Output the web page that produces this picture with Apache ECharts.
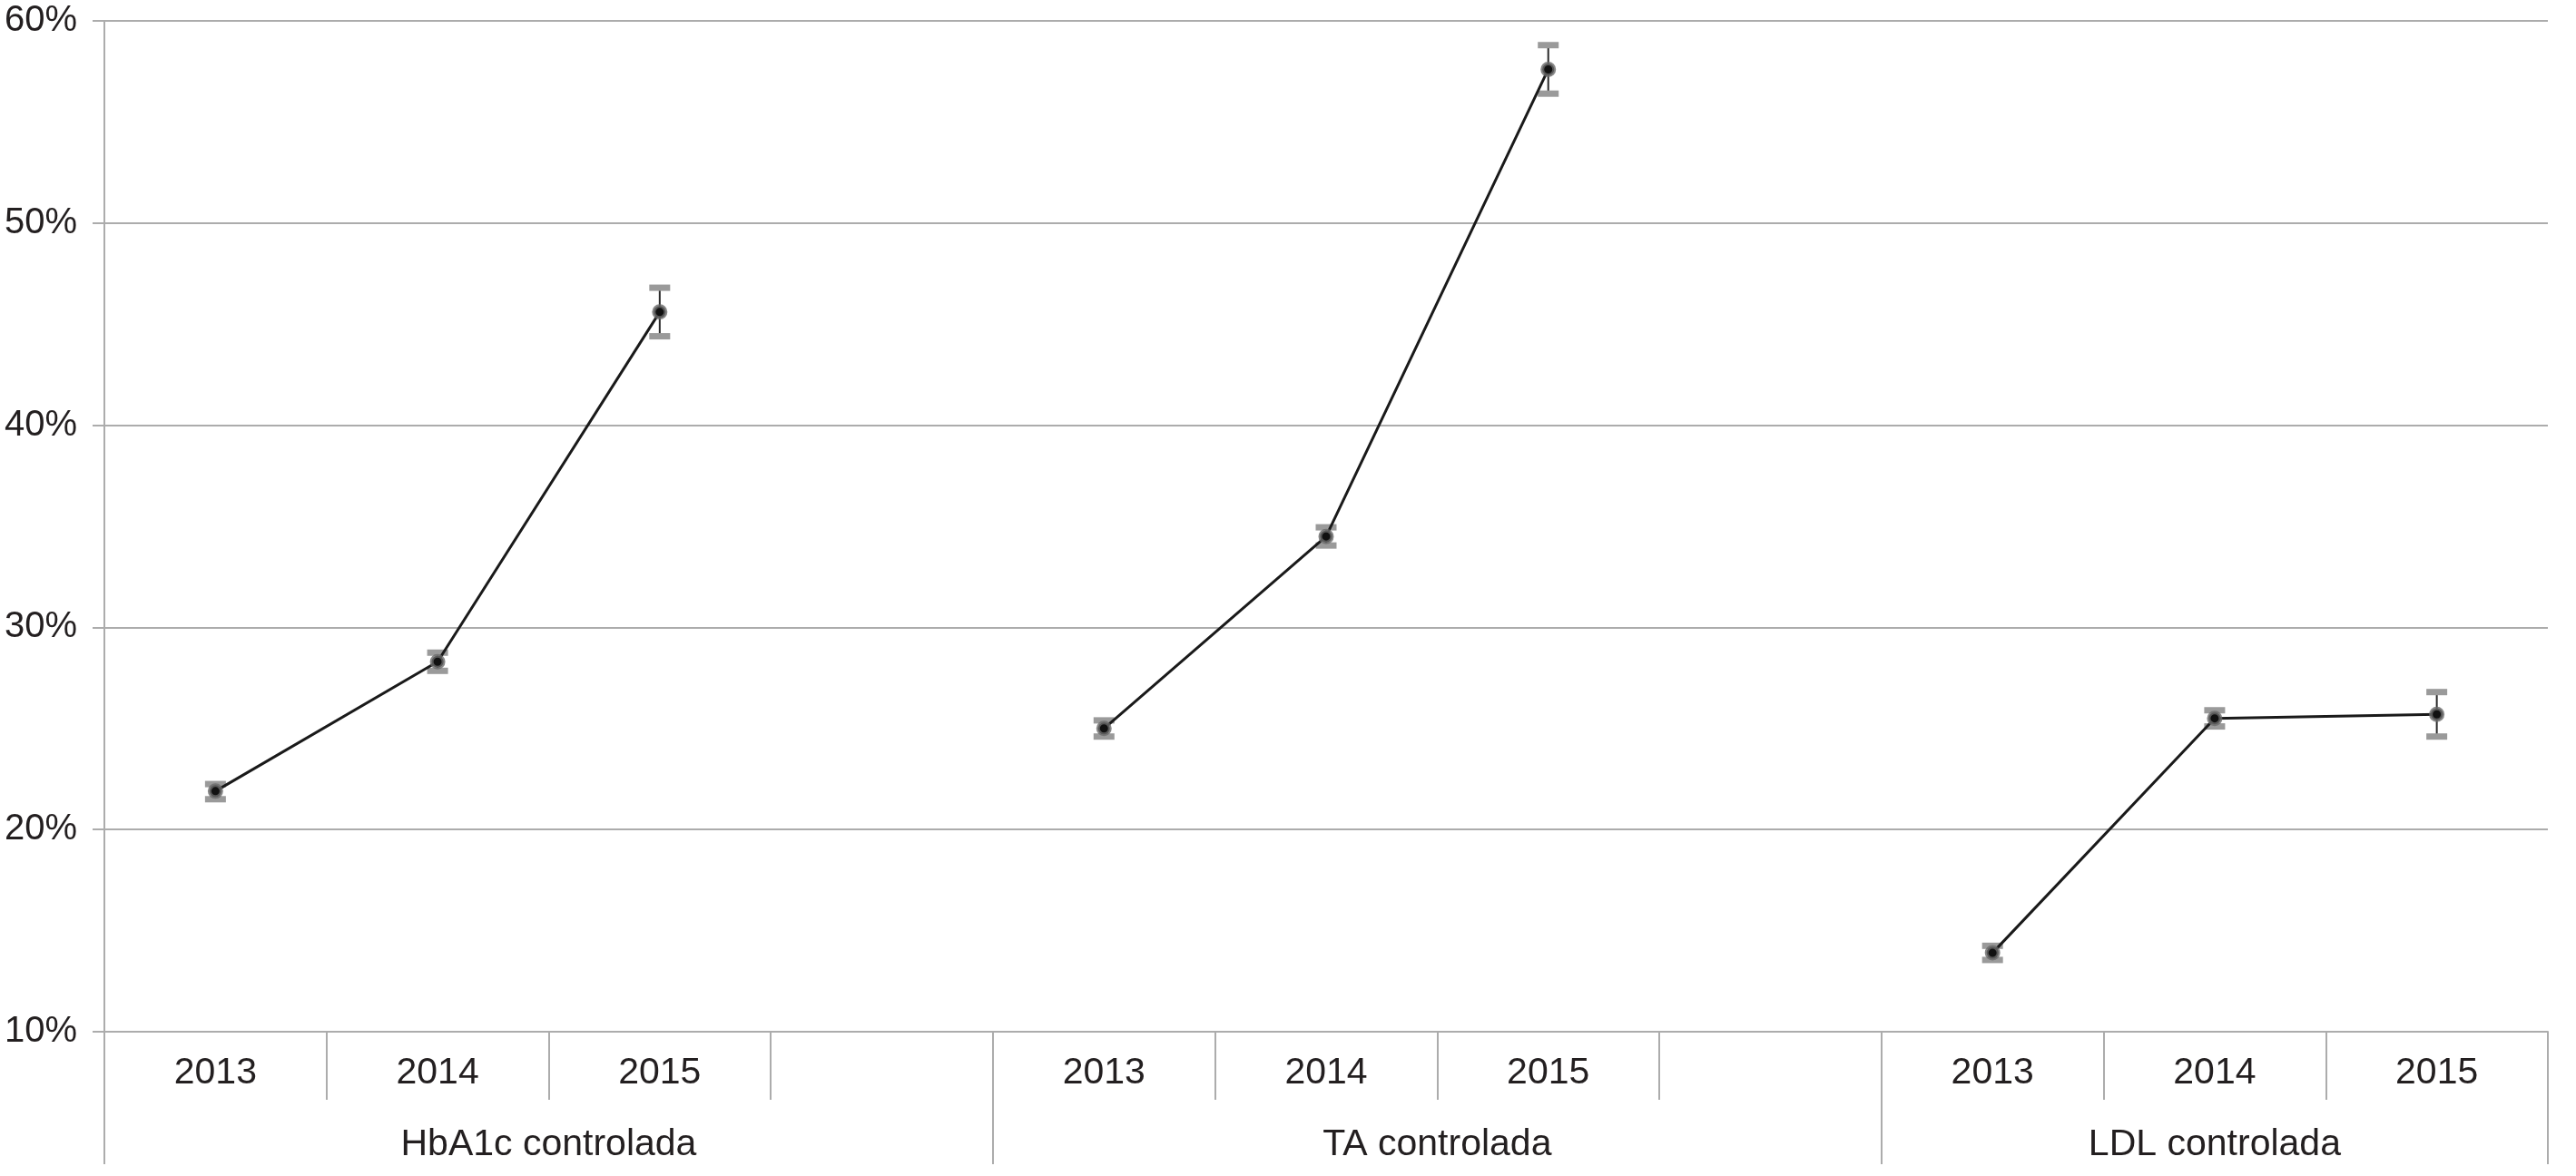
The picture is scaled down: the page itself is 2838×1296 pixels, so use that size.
<!DOCTYPE html>
<html>
<head>
<meta charset="utf-8">
<script src="https://cdn.jsdelivr.net/npm/echarts@6/dist/echarts.min.js"></script>
<style>
  html, body { margin: 0; padding: 0; background: #fff; }
  #chart { width: 2838px; height: 1296px; }
</style>
</head>
<body>
<div id="chart"></div>
<script>
// year slots, with an empty slot between groups
const CATEGORIES = ['2013', '2014', '2015', '', '2013', '2014', '2015', '', '2013', '2014', '2015'];
const VALUES = [21.9, 28.3, 45.6, null, 25.0, 34.5, 57.6, null, 13.9, 25.5, 25.7];
const LOWER = [21.5, 27.85, 44.4, null, 24.6, 34.05, 56.4, null, 13.55, 25.1, 24.6];
const UPPER = [22.25, 28.75, 46.8, null, 25.4, 34.95, 58.8, null, 14.25, 25.9, 26.8];
const GROUP_NAMES = ['HbA1c controlada', 'TA controlada', 'LDL controlada'];
const GROUP_BOUNDS = [0, 4, 8, 11];
const GROUP_CENTERS = [2, 6, 9.5];
const Y_TICKS = [10, 20, 30, 40, 50, 60];

const FONT = 'Liberation Sans, Arial, sans-serif';
const GRID_COLOR = '#acacac';
const TEXT_COLOR = '#231f20';

let errData = [];
CATEGORIES.forEach((c, i) => {
  if (VALUES[i] != null) errData.push([i, LOWER[i], UPPER[i]]);
});

let chart = echarts.init(document.getElementById('chart'));
let option = {
  backgroundColor: '#fff',
  animation: false,
  grid: { left: 115, right: 31, top: 23, bottom: 159 },
  xAxis: [
    {
      type: 'category',
      data: CATEGORIES,
      boundaryGap: true,
      axisLine: { show: true, lineStyle: { color: GRID_COLOR, width: 2 } },
      axisTick: { show: true, interval: 0, length: 75, lineStyle: { color: GRID_COLOR, width: 2 } },
      axisLabel: { interval: 0, fontSize: 41, margin: 25, color: TEXT_COLOR, fontFamily: FONT },
      splitLine: { show: false }
    },
    {
      type: 'value',
      min: 0,
      max: 11,
      position: 'bottom',
      axisLine: { show: false },
      axisTick: { show: true, customValues: GROUP_BOUNDS, length: 146, lineStyle: { color: GRID_COLOR, width: 2 } },
      axisLabel: {
        show: true,
        customValues: GROUP_CENTERS,
        margin: 104,
        fontSize: 41,
        color: TEXT_COLOR,
        fontFamily: FONT,
        formatter: function (v) {
          let k = GROUP_CENTERS.indexOf(v);
          return k >= 0 ? GROUP_NAMES[k] : '';
        }
      },
      splitLine: { show: false }
    }
  ],
  yAxis: {
    type: 'value',
    min: Y_TICKS[0],
    max: Y_TICKS[Y_TICKS.length - 1],
    interval: 10,
    axisLine: { show: true, lineStyle: { color: GRID_COLOR, width: 2 } },
    axisTick: { show: true, length: 13, lineStyle: { color: GRID_COLOR, width: 2 } },
    axisLabel: { formatter: '{value}%', fontSize: 40, margin: 30, color: TEXT_COLOR, fontFamily: FONT },
    splitLine: { show: true, lineStyle: { color: GRID_COLOR, width: 2 } }
  },
  series: [
    {
      type: 'custom',
      xAxisIndex: 0,
      z: 2,
      data: errData,
      renderItem: (params, api) => {
        const lo = api.coord([api.value(0), api.value(1)]);
        const hi = api.coord([api.value(0), api.value(2)]);
        const w = 23, h = 7;
        return {
          type: 'group',
          children: [
            {
              type: 'line',
              shape: { x1: lo[0], y1: lo[1], x2: hi[0], y2: hi[1] },
              style: { stroke: '#2a2a2a', lineWidth: 2 }
            },
            {
              type: 'rect',
              shape: { x: hi[0] - w / 2, y: hi[1] - h / 2, width: w, height: h },
              style: { fill: '#9a9a9a' }
            },
            {
              type: 'rect',
              shape: { x: lo[0] - w / 2, y: lo[1] - h / 2, width: w, height: h },
              style: { fill: '#9a9a9a' }
            }
          ]
        };
      }
    },
    {
      type: 'line',
      xAxisIndex: 0,
      z: 3,
      data: VALUES,
      connectNulls: false,
      symbol: 'circle',
      symbolSize: 13,
      showSymbol: true,
      lineStyle: { color: '#1a1a1a', width: 3 },
      itemStyle: { color: '#111', borderColor: 'rgba(105,105,105,0.8)', borderWidth: 4 }
    }
  ]
};
chart.setOption(option);
</script>
</body>
</html>
